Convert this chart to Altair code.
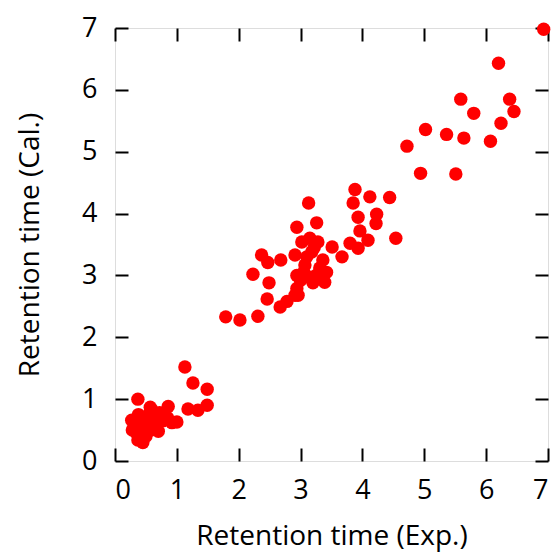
import altair as alt
import pandas as pd

exp_upper = [6.93, 6.20, 5.59, 6.38, 5.80, 6.45, 6.24, 5.02, 5.36, 5.64, 6.07, 4.72, 4.94, 5.51]
cal_upper = [6.98, 6.43, 5.85, 5.85, 5.62, 5.65, 5.46, 5.36, 5.28, 5.22, 5.17, 5.09, 4.65, 4.64]

exp_mid = [3.88, 3.85, 4.12, 4.44, 3.93, 4.23, 4.22, 3.13, 3.26, 2.94, 4.54, 3.96, 4.09, 3.80,
           3.93, 3.15, 3.28, 3.02, 3.51, 3.67, 2.91, 3.18, 3.36, 3.07, 3.31, 2.94, 3.15, 3.42,
           3.20, 3.39, 2.94, 2.91, 2.37, 2.47, 2.68, 2.23, 2.49, 2.46, 2.67, 2.78, 2.96, 1.79,
           2.02, 2.31, 3.10, 3.22, 3.05, 3.25, 3.00]
cal_mid = [4.39, 4.17, 4.27, 4.26, 3.94, 3.99, 3.84, 4.17, 3.85, 3.78, 3.60, 3.72, 3.57, 3.52,
           3.44, 3.60, 3.54, 3.54, 3.46, 3.30, 3.33, 3.38, 3.25, 3.17, 3.12, 3.00, 2.97, 3.05,
           2.88, 2.89, 2.79, 2.68, 3.33, 3.21, 3.25, 3.02, 2.88, 2.62, 2.49, 2.58, 2.68, 2.33,
           2.28, 2.34, 3.30, 3.45, 3.05, 3.00, 2.92]

exp_low = [1.13, 1.26, 1.49, 1.18, 1.34, 1.49, 1.00, 0.37, 0.37, 0.35, 0.27, 0.38, 0.42, 0.45,
           0.50, 0.52, 0.55, 0.58, 0.62, 0.65, 0.70, 0.72, 0.78, 0.86, 0.85, 0.92, 0.28, 0.45,
           0.60, 0.57, 0.40, 0.68, 0.75]
cal_low = [1.52, 1.26, 1.16, 0.84, 0.82, 0.90, 0.63, 1.00, 0.34, 0.45, 0.66, 0.75, 0.55, 0.68,
           0.40, 0.62, 0.75, 0.50, 0.70, 0.58, 0.48, 0.78, 0.65, 0.88, 0.70, 0.62, 0.50, 0.30,
           0.82, 0.87, 0.42, 0.62, 0.72]

tick_values = [0, 1, 2, 3, 4, 5, 6, 7]

df = pd.DataFrame({
    "exp": exp_upper + exp_mid + exp_low,
    "cal": cal_upper + cal_mid + cal_low,
})

FONT = "Open Sans"
TICK = 13

xs = alt.Scale(domain=[0, 7], nice=False, zero=False)
ys = alt.Scale(domain=[0, 7], nice=False, zero=False)

common = dict(values=tick_values, domain=False, grid=False, tickSize=TICK, offset=-TICK,
              tickColor="black", tickWidth=2, labelFont=FONT, labelFontSize=27,
              labelColor="black", titleFont=FONT, titleFontSize=28, titleColor="black",
              titleFontWeight="normal")

points = alt.Chart(df).mark_circle(size=180, color="#ff0000", opacity=1).encode(
    x=alt.X("exp:Q", scale=xs,
            axis=alt.Axis(orient="bottom", title="Retention time (Exp.)", labelPadding=16,
                          titlePadding=19, **common)),
    y=alt.Y("cal:Q", scale=ys,
            axis=alt.Axis(orient="left", title="Retention time (Cal.)", labelPadding=18,
                          titlePadding=37, **common)),
)

frame = alt.Chart(df).mark_circle(opacity=0).encode(
    x=alt.X("exp:Q", scale=xs,
            axis=alt.Axis(orient="top", title=None, labels=False, **common)),
    y=alt.Y("cal:Q", scale=ys,
            axis=alt.Axis(orient="right", title=None, labels=False, **common)),
)

chart = alt.layer(frame, points).resolve_axis(x="independent", y="independent").properties(
    width=433, height=433,
    autosize=alt.AutoSizeParams(type="none"),
    padding={"left": 115, "top": 28, "right": 12, "bottom": 91},
).configure_view(stroke="black", strokeWidth=2).configure(background="white")

chart.save("out.html", embed_options={"renderer": "svg", "actions": False})
